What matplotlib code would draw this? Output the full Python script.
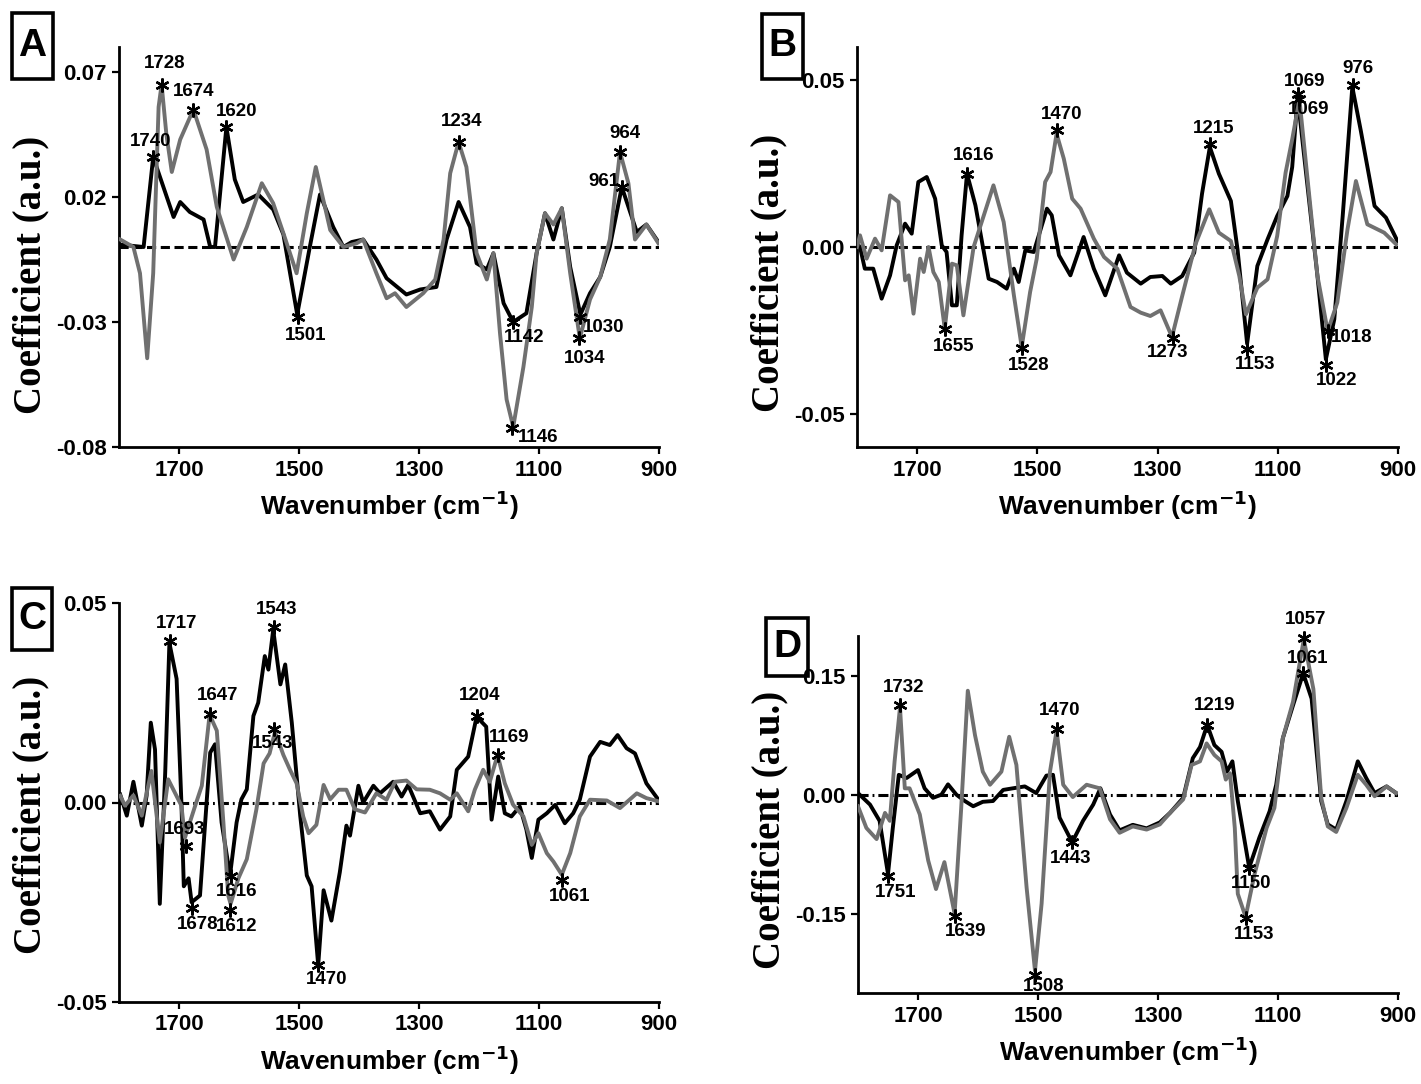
import matplotlib
matplotlib.use("Agg")
import matplotlib.pyplot as plt
import numpy as np

plt.rcParams['font.family'] = ['Liberation Sans', 'DejaVu Sans']
plt.rcParams['axes.unicode_minus'] = False

# ---------------- data ----------------
x_ticks = [1700, 1500, 1300, 1100, 900]

A_black_w = [1800,1759,1743,1726,1709,1698,1682,1659,1648,1640,1621,1607,1593,1568,1543,1526,1503,1482,1465,1443,1426,1412,1393,1371,1354,1321,1298,1271,1254,1234,1215,1204,1187,1176,1159,1143,1121,1104,1090,1076,1062,1048,1031,1015,998,982,962,937,921,901]
A_black_v = [0.001,0.000,0.036,0.024,0.012,0.018,0.014,0.011,0.000,0.000,0.048,0.027,0.018,0.021,0.015,0.005,-0.027,0.000,0.021,0.008,0.000,0.002,0.003,-0.005,-0.0125,-0.019,-0.017,-0.016,0.003,0.018,0.008,-0.0065,-0.009,-0.0025,-0.0225,-0.030,-0.0265,-0.0025,0.0135,0.003,0.0155,-0.008,-0.027,-0.0185,-0.012,0.000,0.024,0.006,0.009,0.002]
A_gray_w = [1798,1776,1765,1753,1743,1734,1729,1721,1712,1698,1676,1654,1637,1623,1609,1587,1562,1543,1526,1504,1487,1472,1448,1426,1404,1393,1371,1354,1340,1321,1293,1273,1259,1248,1234,1221,1204,1187,1176,1165,1154,1143,1126,1112,1104,1090,1076,1062,1048,1032,1015,998,982,965,951,940,921,901]
A_gray_v = [0.003,0.000,-0.0105,-0.0445,-0.0105,0.056,0.065,0.045,0.030,0.043,0.055,0.039,0.016,0.0055,-0.005,0.008,0.0255,0.0175,0.0055,-0.0105,0.0135,0.032,0.0068,0.000,0.0015,0.003,-0.0105,-0.0205,-0.0185,-0.024,-0.0185,-0.013,0.003,0.0295,0.042,0.032,-0.0025,-0.013,-0.0025,-0.0345,-0.061,-0.072,-0.048,-0.024,-0.0025,0.0135,0.009,0.0155,-0.0105,-0.0365,-0.021,-0.012,0.003,0.038,0.0255,0.003,0.009,0.0015]
A_yticks = [0.07, 0.02, -0.03, -0.08]
A_yticklabels = ["0.07", "0.02", "-0.03", "-0.08"]
A_peak_labels = ["1740", "1728", "1674", "1620", "1501", "1234", "964", "961", "1142", "1146", "1030", "1034"]
A_peak_w = [1743, 1729, 1676, 1621, 1502, 1234, 965, 962, 1143, 1145, 1032, 1033]
A_peak_v = [0.036, 0.065, 0.055, 0.048, -0.028, 0.042, 0.038, 0.024, -0.030, -0.0725, -0.028, -0.0365]

B_black_w = [1800,1795,1787,1773,1759,1745,1734,1720,1709,1698,1684,1670,1659,1651,1642,1634,1626,1617,1603,1592,1581,1567,1551,1539,1531,1520,1506,1484,1476,1464,1445,1423,1406,1387,1364,1351,1328,1312,1292,1278,1259,1239,1226,1213,1198,1178,1167,1151,1134,1117,1101,1084,1076,1067,1051,1034,1020,1006,992,976,962,939,920,901]
B_black_v = [0.001,0.000,-0.0065,-0.0065,-0.0155,-0.0085,0.0005,0.007,0.004,0.0195,0.021,0.0145,0.0005,-0.0015,-0.0175,-0.0175,0.0035,0.022,0.0125,0.0015,-0.0095,-0.0105,-0.0125,-0.0065,-0.0105,-0.001,-0.0015,0.0115,0.0095,-0.0025,-0.0085,0.003,-0.0065,-0.0145,-0.0025,-0.0077,-0.011,-0.009,-0.0087,-0.011,-0.0087,-0.0017,0.016,0.030,0.022,0.0138,-0.0007,-0.029,-0.0057,0.0023,0.0093,0.0153,0.024,0.045,0.019,-0.0087,-0.0337,-0.0217,0.0093,0.048,0.035,0.0123,0.0088,0.0018]
B_gray_w = [1800,1795,1784,1770,1759,1745,1731,1720,1714,1706,1695,1689,1681,1673,1664,1654,1642,1634,1623,1606,1589,1573,1556,1539,1526,1512,1501,1487,1478,1468,1456,1442,1428,1417,1406,1389,1367,1345,1328,1312,1295,1276,1259,1237,1214,1198,1178,1164,1153,1134,1117,1101,1087,1076,1064,1051,1034,1017,1001,984,970,951,923,903]
B_gray_v = [0.000,0.0035,-0.0035,0.0025,-0.001,0.0155,0.0135,-0.010,-0.0085,-0.020,-0.0035,-0.0075,0.000,-0.0075,-0.0105,-0.0245,-0.005,-0.0055,-0.0205,0.000,0.0095,0.0185,0.0075,-0.0145,-0.030,-0.0135,-0.0035,0.0195,0.0225,0.034,0.0265,0.0145,0.0115,0.007,0.0025,-0.003,-0.0065,-0.018,-0.0197,-0.0207,-0.019,-0.027,-0.0147,0.0008,0.0113,0.0043,0.0018,-0.0087,-0.0202,-0.0122,-0.0097,0.0033,0.0223,0.0323,0.0443,0.0213,-0.0087,-0.0252,-0.0167,0.0053,0.0198,0.0068,0.0043,0.0008]
B_yticks = [0.05, 0.00, -0.05]
B_yticklabels = ["0.05", "0.00", "-0.05"]
B_peak_labels = ["1616", "1470", "1655", "1528", "1215", "1273", "1153", "1069", "1069", "976", "1018", "1022"]
B_peak_w = [1617, 1468, 1654, 1526, 1213, 1274, 1151, 1067, 1064, 975, 1017, 1019]
B_peak_v = [0.022, 0.035, -0.0247, -0.0303, 0.0308, -0.0272, -0.0307, 0.0458, 0.0443, 0.0485, -0.0252, -0.0355]

C_black_w = [1798,1787,1776,1762,1754,1747,1740,1732,1723,1716,1704,1696,1692,1684,1679,1665,1654,1648,1640,1629,1615,1604,1596,1587,1576,1568,1557,1551,1543,1531,1523,1512,1498,1487,1479,1468,1459,1446,1432,1421,1415,1401,1393,1376,1365,1343,1329,1318,1298,1282,1265,1248,1237,1218,1204,1188,1179,1168,1157,1146,1132,1121,1112,1101,1087,1073,1057,1043,1032,1015,998,982,969,954,940,921,901]
C_black_v = [0.002,-0.0033,0.0052,-0.0058,0.0017,0.020,0.0133,-0.0254,0.0075,0.040,0.031,0.000,-0.021,-0.019,-0.025,-0.0233,0.000,0.0125,0.0146,-0.005,-0.0183,-0.005,0.0008,0.0033,0.0217,0.025,0.0367,0.0333,0.0433,0.0296,0.0346,0.020,-0.0033,-0.0183,-0.021,-0.0408,-0.022,-0.0296,-0.0175,-0.0058,-0.0083,0.0042,0.000,0.0042,0.0023,0.0052,0.0015,0.0044,-0.0027,-0.0022,-0.0068,-0.0035,0.0082,0.0115,0.0215,0.019,-0.0043,0.0065,-0.0027,-0.0035,-0.001,-0.0068,-0.0139,-0.0043,-0.0027,-0.0006,-0.0052,-0.0027,0.0007,0.0115,0.0152,0.0144,0.0169,0.0136,0.0123,0.0048,0.0007]
C_gray_w = [1798,1790,1776,1762,1746,1732,1718,1707,1696,1690,1673,1662,1649,1637,1626,1618,1614,1601,1587,1571,1559,1549,1540,1526,1515,1504,1493,1484,1471,1459,1448,1434,1421,1407,1390,1371,1354,1340,1321,1304,1282,1265,1248,1237,1218,1207,1193,1182,1169,1157,1143,1126,1112,1101,1087,1076,1062,1048,1032,1015,987,965,937,921,901]
C_gray_v = [0.0017,-0.0008,0.0018,-0.0033,0.0079,-0.010,0.0058,0.0025,-0.0008,-0.0088,-0.0008,0.0042,0.022,0.018,-0.005,-0.0233,-0.0254,-0.019,-0.0142,-0.0017,0.0098,0.0123,0.0177,0.0119,0.0082,0.0048,-0.0035,-0.0077,-0.0056,0.0044,0.0008,0.0032,0.0032,-0.0017,-0.0025,0.0023,0.0007,0.0052,0.0055,0.0033,0.0032,0.0023,0.0007,0.0023,-0.0022,0.0032,0.0082,0.0052,0.0119,0.0048,-0.0006,-0.0035,-0.0106,-0.0077,-0.0127,-0.0148,-0.0181,-0.0127,-0.0035,0.0007,0.0005,-0.0014,0.0023,0.0011,0.0003]
C_yticks = [0.05, 0.00, -0.05]
C_yticklabels = ["0.05", "0.00", "-0.05"]
C_peak_labels = ["1717", "1647", "1543", "1543", "1693", "1678", "1616", "1612", "1470", "1204", "1169", "1061"]
C_peak_w = [1715, 1648, 1542, 1541, 1688, 1679, 1614, 1615, 1468, 1204, 1169, 1061]
C_peak_v = [0.0404, 0.0223, 0.044, 0.0185, -0.011, -0.0265, -0.0185, -0.027, -0.0408, 0.0217, 0.0119, -0.0195]

D_black_w = [1800,1780,1764,1750,1742,1732,1719,1700,1689,1675,1661,1650,1636,1622,1608,1592,1575,1558,1542,1522,1503,1486,1475,1464,1443,1425,1408,1396,1380,1364,1342,1319,1297,1280,1258,1242,1230,1218,1206,1194,1185,1176,1167,1148,1131,1114,1103,1092,1075,1058,1044,1028,1017,1003,986,967,953,939,919,903]
D_black_v = [0.002,-0.0125,-0.033,-0.100,-0.042,0.025,0.021,0.031,0.008,-0.004,0.000,0.013,0.000,-0.008,-0.0146,-0.009,-0.008,0.006,0.008,0.0104,0.002,0.024,0.025,-0.029,-0.060,-0.033,-0.0125,0.008,-0.025,-0.045,-0.038,-0.0425,-0.035,-0.023,-0.004,0.046,0.060,0.088,0.0625,0.054,0.029,0.042,-0.008,-0.092,-0.054,-0.021,0.0125,0.071,0.1125,0.153,0.121,-0.008,-0.0375,-0.044,-0.008,0.042,0.021,0.002,0.0104,0.002]
D_gray_w = [1800,1786,1769,1755,1747,1739,1730,1722,1714,1697,1683,1670,1656,1639,1628,1617,1605,1592,1580,1561,1548,1536,1519,1505,1494,1480,1469,1458,1442,1419,1397,1380,1364,1342,1319,1297,1280,1258,1244,1230,1219,1206,1194,1187,1180,1172,1167,1154,1139,1119,1106,1092,1075,1057,1041,1028,1017,1003,986,967,953,939,919,903]
D_gray_v = [-0.0146,-0.042,-0.056,-0.023,-0.033,0.042,0.110,0.008,0.008,-0.025,-0.083,-0.119,-0.085,-0.150,-0.017,0.131,0.075,0.029,0.0125,0.029,0.073,0.0375,-0.117,-0.222,-0.1375,0.029,0.081,0.0125,-0.003,0.0125,0.008,-0.031,-0.048,-0.040,-0.044,-0.0375,-0.023,-0.006,0.0375,0.042,0.0646,0.050,0.042,0.019,0.027,-0.042,-0.125,-0.154,-0.100,-0.042,-0.0167,0.071,0.117,0.196,0.133,-0.004,-0.040,-0.047,-0.0167,0.025,0.0125,-0.002,0.0104,0.002]
D_yticks = [0.15, 0.00, -0.15]
D_yticklabels = ["0.15", "0.00", "-0.15"]
D_peak_labels = ["1732", "1751", "1639", "1508", "1470", "1443", "1219", "1150", "1153", "1057", "1061"]
D_peak_w = [1730, 1750, 1638, 1505, 1469, 1443, 1218, 1148, 1154, 1057, 1058]
D_peak_v = [0.1126, -0.102, -0.153, -0.227, 0.083, -0.060, 0.088, -0.092, -0.156, 0.198, 0.153]

# ---------------- layout / style ----------------
GRAY = '#707070'
W, H = 1421, 1084

# label offsets in pixels (dx, dy, ha)
A_offsets = [(-3, 15, 'center'), (3, 21, 'center'), (0, 18, 'center'), (10, 15, 'center'),
             (8, -19, 'center'), (3, 20, 'center'), (5, 18, 'center'), (-2, 6, 'right'),
             (11, -15, 'center'), (6, -9, 'left'), (3, -11, 'left'), (5, -20, 'center')]
B_offsets = [(7, 18, 'center'), (5, 16, 'center'), (9, -17, 'center'), (7, -17, 'center'),
             (4, 16, 'center'), (-6, -15, 'center'), (8, -15, 'center'), (7, 13, 'center'),
             (9, -10, 'center'), (5, 17, 'center'), (3, -6, 'left'), (10, -15, 'center')]
C_offsets = [(7, 18, 'center'), (7, 18, 'center'), (3, 17, 'center'), (-2, -15, 'center'),
             (-2, 17, 'center'), (6, -16, 'center'), (6, -15, 'center'), (7, -16, 'center'),
             (8, -14, 'center'), (3, 20, 'center'), (12, 18, 'center'), (7, -16, 'center')]
D_offsets = [(4, 18, 'center'), (8, -17, 'center'), (10, -15, 'center'), (9, -12, 'center'),
             (3, 18, 'center'), (-2, -16, 'center'), (7, 19, 'center'), (2, -16, 'center'),
             (9, -16, 'center'), (2, 18, 'center'), (4, 15, 'center')]

panels = [
    dict(letter='A', rect=(119, 47, 659, 447), ylim=(-0.08, 0.08), yt=A_yticks, ytl=A_yticklabels,
         bw=A_black_w, bv=A_black_v, gw=A_gray_w, gv=A_gray_v, zero=(0, (3.0, 1.5)),
         pl=A_peak_labels, pw=A_peak_w, pv=A_peak_v, off=A_offsets, box=(12, 13, 53, 79), ylab_y=275),
    dict(letter='B', rect=(857, 47, 1398, 447), ylim=(-0.06, 0.06), yt=B_yticks, ytl=B_yticklabels,
         bw=B_black_w, bv=B_black_v, gw=B_gray_w, gv=B_gray_v, zero=(0, (3.0, 1.5)),
         pl=B_peak_labels, pw=B_peak_w, pv=B_peak_v, off=B_offsets, box=(762, 14, 803, 79), ylab_y=273),
    dict(letter='C', rect=(119, 603, 659, 1002), ylim=(-0.05, 0.05), yt=C_yticks, ytl=C_yticklabels,
         bw=C_black_w, bv=C_black_v, gw=C_gray_w, gv=C_gray_v, zero=(0, (3.3, 1.3, 0.6, 1.3)),
         pl=C_peak_labels, pw=C_peak_w, pv=C_peak_v, off=C_offsets, box=(12, 588, 52, 650), ylab_y=815),
    dict(letter='D', rect=(858, 636, 1398, 993), ylim=(-0.25, 0.2), yt=D_yticks, ytl=D_yticklabels,
         bw=D_black_w, bv=D_black_v, gw=D_gray_w, gv=D_gray_v, zero=(0, (3.3, 1.3, 0.6, 1.3)),
         pl=D_peak_labels, pw=D_peak_w, pv=D_peak_v, off=D_offsets, box=(766, 618, 808, 676), ylab_y=830),
]

fig = plt.figure(figsize=(W / 100, H / 100), dpi=100)

for p in panels:
    x0, y0, x1, y1 = p['rect']
    ax = fig.add_axes([x0 / W, 1 - y1 / H, (x1 - x0) / W, (y1 - y0) / H])
    ax.set_xlim(1800, 900)
    ax.set_ylim(*p['ylim'])
    ax.axhline(0, color='black', lw=2.2, ls=p['zero'], zorder=1)
    ax.plot(p['bw'], p['bv'], color='black', lw=2.8, zorder=2, solid_joinstyle='round')
    ax.plot(p['gw'], p['gv'], color=GRAY, lw=2.8, zorder=3, solid_joinstyle='round')
    for lab, w, v, (dx, dy, ha) in zip(p['pl'], p['pw'], p['pv'], p['off']):
        ax.plot([w], [v], marker=(6, 2, 0), ms=10, mew=1.7, color='black', zorder=5, clip_on=False)
        ax.annotate(lab, (w, v), xytext=(dx, dy), textcoords='offset pixels', ha=ha, va='center',
                    fontsize=13.5, fontweight='bold', zorder=6, annotation_clip=False)
    for s in ['top', 'right']:
        ax.spines[s].set_visible(False)
    for s in ['left', 'bottom']:
        ax.spines[s].set_linewidth(2.0)
    ax.set_xticks(x_ticks)
    ax.set_xticklabels([str(t) for t in x_ticks])
    ax.set_yticks(p['yt'])
    ax.set_yticklabels(p['ytl'])
    ax.tick_params(direction='out', length=5, width=1.6, labelsize=16, pad=4)
    for t in ax.get_xticklabels() + ax.get_yticklabels():
        t.set_fontweight('bold')
    ax.set_xlabel('Wavenumber (cm$^{\\mathbf{-1}}$)', fontsize=19, fontweight='bold', labelpad=6)
    ax.set_ylabel('Coefficient (a.u.)', fontsize=28, fontweight='bold',
                  family=['Liberation Serif', 'DejaVu Serif'])
    ax.yaxis.set_label_coords(-70 / (x1 - x0), (y1 - p['ylab_y']) / (y1 - y0))
    bx0, by0, bx1, by1 = p['box']
    fig.add_artist(plt.Rectangle((bx0 / W, 1 - by1 / H), (bx1 - bx0) / W, (by1 - by0) / H,
                                 transform=fig.transFigure, fill=False, lw=2.6, ec='black'))
    fig.text((bx0 + bx1) / 2 / W, 1 - (by0 + by1) / 2 / H, p['letter'], ha='center', va='center',
             fontsize=28, fontweight='bold')

fig.savefig('out.png', dpi=100)
